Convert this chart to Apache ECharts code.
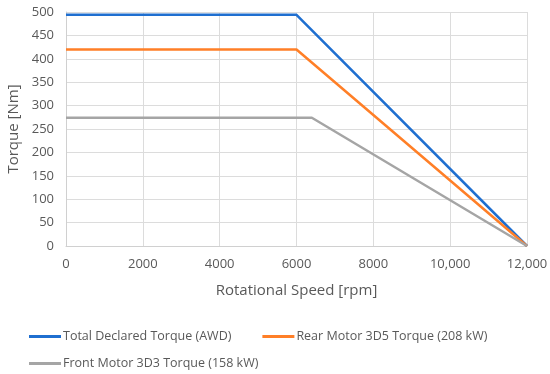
<!DOCTYPE html>
<html><head><meta charset="utf-8">
<script src="https://cdn.jsdelivr.net/npm/echarts@6/dist/echarts.min.js"></script>
<style>html,body{margin:0;padding:0;background:#fff}#c{width:550px;height:374px}</style>
</head><body><div id="c"></div>
<script>
var seriesNames = ['Total Declared Torque (AWD)', 'Rear Motor 3D5 Torque (208 kW)', 'Front Motor 3D3 Torque (158 kW)'];
var totalTorque = [[0, 494], [6000, 494], [12000, 0]];
var rearTorque = [[0, 420], [6000, 420], [12000, 0]];
var frontTorque = [[0, 274], [6400, 274], [12000, 0]];
var xTickLabels = {0: '0', 2000: '2000', 4000: '4000', 6000: '6000', 8000: '8000', 10000: '10,000', 12000: '12,000'};
var colors = ['#1f6fd0', '#ff7f27', '#a5a5a5'];

var font = 'Open Sans, sans-serif';
var chart = echarts.init(document.getElementById('c'));
chart.setOption({
  animation: false,
  color: colors,
  grid: {left: 66, right: 23, top: 12, bottom: 128, containLabel: false, outerBoundsMode: 'none'},
  xAxis: {
    type: 'value', min: 0, max: 12000, interval: 2000,
    name: 'Rotational Speed [rpm]', nameLocation: 'middle', nameGap: 37,
    nameTextStyle: {color: '#595959', fontSize: 15, fontFamily: font},
    axisLine: {show: true, lineStyle: {color: '#d0d0d0'}},
    axisTick: {show: false},
    axisLabel: {color: '#595959', fontSize: 13, fontFamily: font, margin: 12,
      formatter: function (v) { return xTickLabels[v] !== undefined ? xTickLabels[v] : String(v); }},
    splitLine: {show: true, lineStyle: {color: '#dcdcdc'}}
  },
  yAxis: {
    type: 'value', min: 0, max: 500, interval: 50,
    name: 'Torque [Nm]', nameLocation: 'middle', nameGap: 44,
    nameTextStyle: {color: '#595959', fontSize: 15, fontFamily: font},
    axisLine: {show: true, lineStyle: {color: '#d0d0d0'}},
    axisTick: {show: false},
    axisLabel: {color: '#595959', fontSize: 13, fontFamily: font, margin: 12},
    splitLine: {show: true, lineStyle: {color: '#dcdcdc'}}
  },
  legend: [
    {data: [seriesNames[0], seriesNames[1]], left: 24, top: 325, itemWidth: 32, itemHeight: 3, icon: 'rect', itemGap: 31,
      textStyle: {color: '#595959', fontSize: 12.5, fontFamily: font, padding: [0, 0, 0, -3]}},
    {data: [seriesNames[2]], left: 24, top: 352, itemWidth: 32, itemHeight: 3, icon: 'rect',
      textStyle: {color: '#595959', fontSize: 12.5, fontFamily: font, padding: [0, 0, 0, -3]}}
  ],
  series: [
    {name: seriesNames[0], type: 'line', data: totalTorque, symbol: 'none', lineStyle: {width: 2.5}},
    {name: seriesNames[1], type: 'line', data: rearTorque, symbol: 'none', lineStyle: {width: 2.5}},
    {name: seriesNames[2], type: 'line', data: frontTorque, symbol: 'none', lineStyle: {width: 2.5}}
  ]
});
</script></body></html>
